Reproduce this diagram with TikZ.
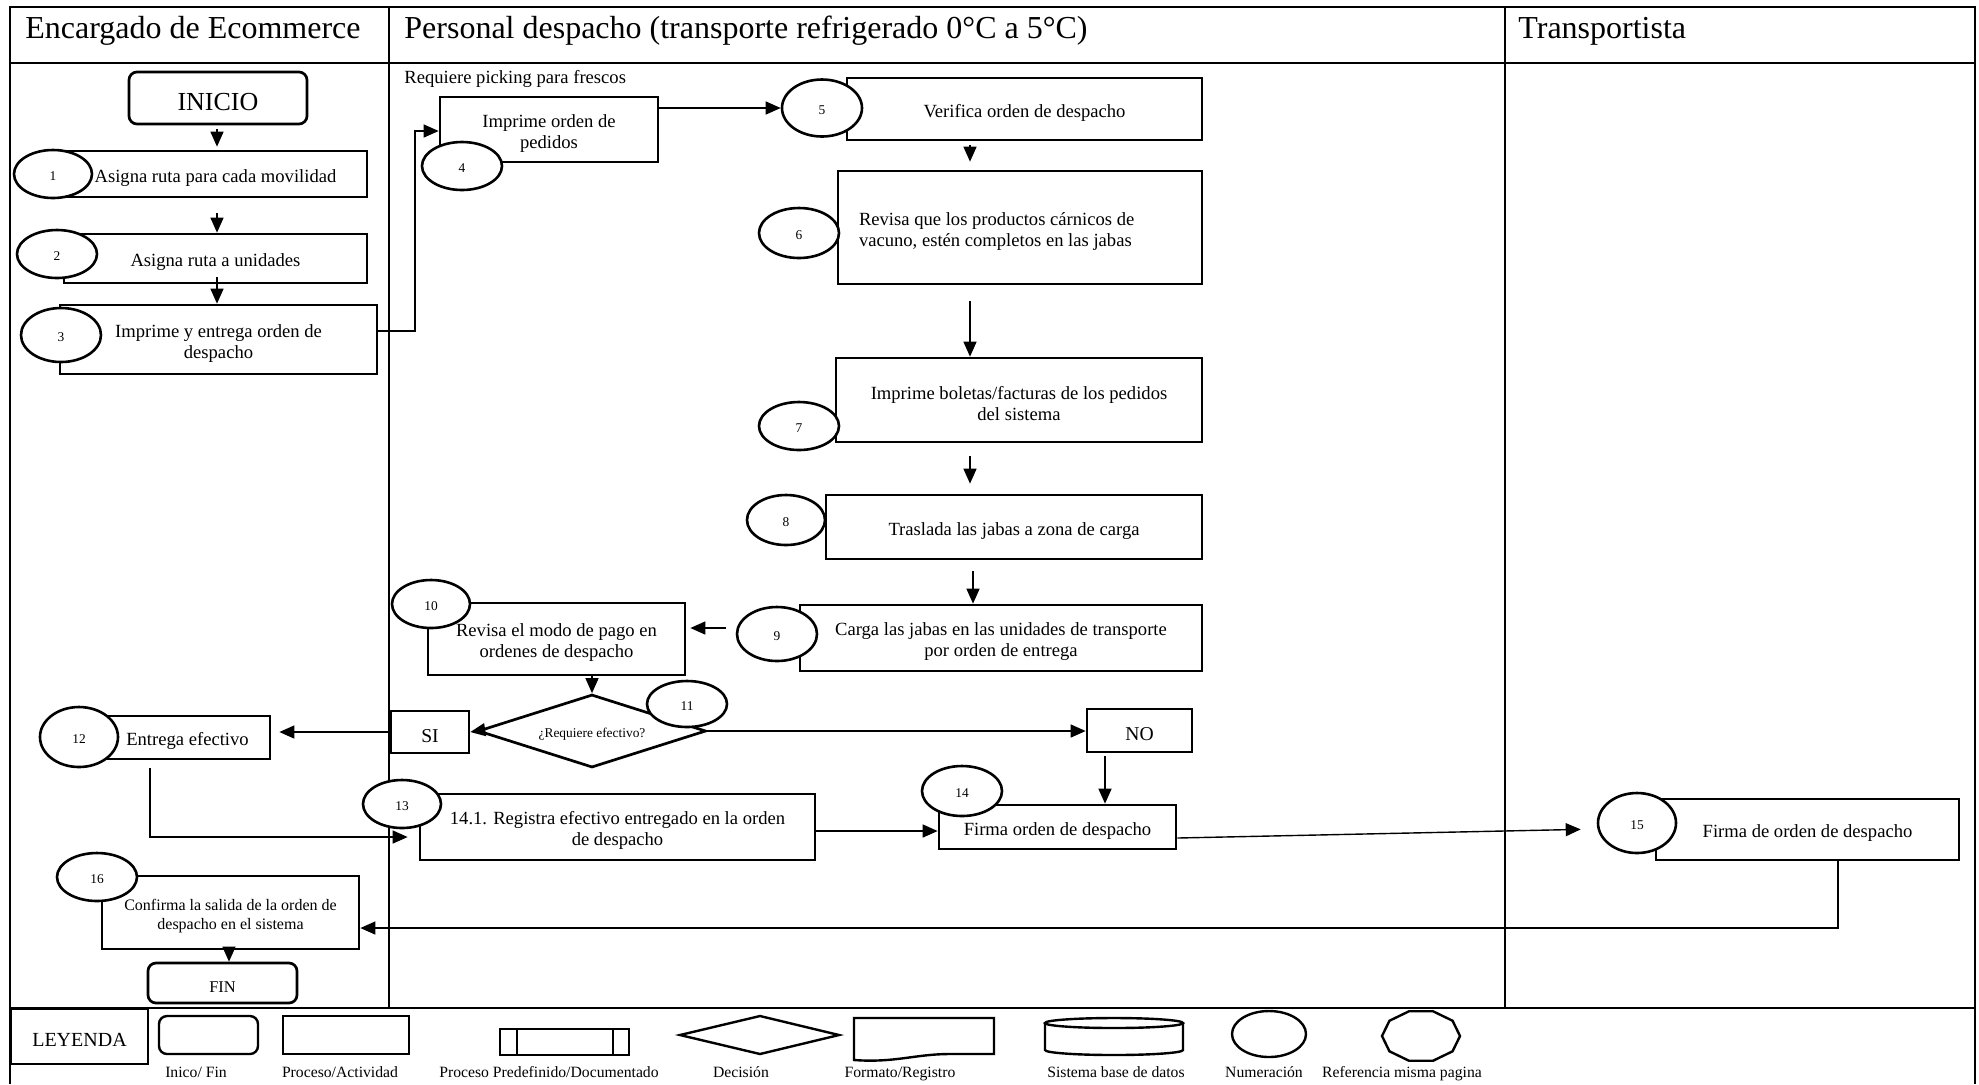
\documentclass[tikz,border=0pt]{standalone}
\usepackage{fontspec}
\setmainfont{Liberation Serif}
\usetikzlibrary{arrows.meta,shapes.geometric,calc}
\newcommand\ftitle{\fontsize{16}{19}\selectfont}
\newcommand\fbody{\fontsize{9.3}{10.6}\selectfont}
\newcommand\finicio{\fontsize{13}{15}\selectfont}
\newcommand\fnum{\fontsize{6.7}{8}\selectfont}
\newcommand\fdia{\fontsize{6.7}{8}\selectfont}
\newcommand\fsi{\fontsize{9.8}{11}\selectfont}
\newcommand\fsmall{\fontsize{8}{9.5}\selectfont}
\newcommand\ffin{\fontsize{8.2}{10}\selectfont}
\newcommand\fley{\fontsize{10}{12}\selectfont}
\newcommand\flg{\fontsize{7.85}{9}\selectfont}
\tikzset{
  frm/.style={line width=1pt},
  pbox/.style={draw, rectangle, line width=1.35pt, inner sep=0pt},
  btxt/.style={inner sep=0pt, align=center, font=\fbody},
  num/.style={draw, ellipse, fill=white, line width=1.3pt, inner sep=0pt, font=\fnum, text height=6.4pt, text depth=0pt},
  arr/.style={line width=0.7pt, -{Triangle[length=7.5pt,width=6.5pt]}},
  lg/.style={line width=1.2pt},
  lgl/.style={anchor=base, inner sep=0pt, font=\flg},
  ttl/.style={anchor=base west, inner sep=0pt, font=\ftitle}
}
\newcommand\pbx[7][]{\node[pbox,minimum width={(#5-#3)*0.5pt},minimum height={(#6-#4)*0.5pt},#1] (#2) at ({(#3+#5)/2},{(#4+#6)/2}) {};
  \node[btxt,#1] (#2t) at ([yshift=-1.9pt]#2.center) {#7};}
\newcommand\nm[6]{\node[num,minimum width={#5*0.5pt},minimum height={#6*0.5pt}] (#1) at (#2,#3) {#4};}
\begin{document}
\begin{tikzpicture}[x=0.5pt,y=-0.5pt]
\useasboundingbox (0,0) rectangle (1979,1084);
% frame
\draw[frm] (10,1084) -- (10,7) -- (1975,7) -- (1975,1084);
\draw[frm] (10,63) -- (1975,63);
\draw[frm] (389,7) -- (389,1008);
\draw[frm] (1505,7) -- (1505,1008);
\draw[line width=1.3pt] (10,1008) -- (1975,1008);
% titles
\node[ttl] (t1) at (25,38) {Encargado de Ecommerce};
\node[ttl] (t2) at (404,38) {Personal despacho (transporte refrigerado 0°C a 5°C)};
\node[ttl] (t3) at (1518,38) {Transportista};
\node[anchor=base west, inner sep=0pt, font=\fbody] (pick) at (404,83) {Requiere picking para frescos};
% boxes
\pbx[rounded corners=4pt, font=\finicio]{inicio}{129}{72}{307}{124}{INICIO}
\pbx{b1}{64}{151}{367}{197}{Asigna ruta para cada movilidad}
\pbx{b2}{64}{234}{367}{283}{Asigna ruta a unidades}
\pbx{b3}{60}{305}{377}{374}{Imprime y entrega orden de\\despacho}
\pbx{b4}{440}{97}{658}{162}{Imprime orden de\\pedidos}
\pbx{b5}{847}{78}{1202}{140}{Verifica orden de despacho}
\pbx[text width=161pt, align=flush left]{b6}{838}{171}{1202}{284}{Revisa que los productos cárnicos de\\vacuno, estén completos en las jabas}
\pbx{b7}{836}{358}{1202}{442}{Imprime boletas/facturas de los pedidos\\del sistema}
\pbx{b8}{826}{495}{1202}{559}{Traslada las jabas a zona de carga}
\pbx{b9}{800}{605}{1202}{671}{Carga las jabas en las unidades de transporte\\por orden de entrega}
\pbx{b10}{428}{603}{685}{675}{Revisa el modo de pago en\\ordenes de despacho}
\pbx[font=\fsi]{si}{391}{711}{469}{753}{SI}
\pbx[font=\fsi]{no}{1087}{709}{1192}{752}{NO}
\pbx{b12}{105}{716}{270}{759}{Entrega efectivo}
\pbx{b13}{420}{794}{815}{860}{14.1. Registra efectivo entregado en la orden\\de despacho}
\pbx{b14}{939}{805}{1176}{849}{Firma orden de despacho}
\pbx{b15}{1656}{799}{1959}{860}{Firma de orden de despacho}
\pbx[font=\fsmall]{b16}{102}{876}{359}{949}{Confirma la salida de la orden de\\despacho en el sistema}
\pbx[rounded corners=4pt, font=\ffin]{fin}{148}{963}{297}{1003}{FIN}
\node[draw, diamond, line width=1.35pt, inner sep=0pt, minimum width=114pt, minimum height=36.5pt] (d11) at (592,731) {};
\node[inner sep=0pt, font=\fdia] (d11t) at ([yshift=-1.5pt]d11.center) {¿Requiere efectivo?};
% numbers
\nm{e1}{53}{174}{1}{78}{48}
\nm{e2}{57}{254}{2}{80}{48}
\nm{e3}{61}{335}{3}{80}{54}
\nm{e4}{462}{166}{4}{80}{48}
\nm{e5}{822}{108}{5}{80}{57}
\nm{e6}{799}{233}{6}{80}{50}
\nm{e7}{799}{426}{7}{80}{48}
\nm{e8}{786}{520}{8}{78}{50}
\nm{e9}{777}{634}{9}{80}{54}
\nm{e10}{431}{604}{10}{78}{48}
\nm{e11}{687}{704}{11}{80}{46}
\nm{e12}{79}{737}{12}{78}{60}
\nm{e13}{402}{804}{13}{78}{48}
\nm{e14}{962}{791}{14}{80}{50}
\nm{e15}{1637}{823}{15}{78}{60}
\nm{e16}{97}{877}{16}{80}{48}
% helper coordinates
\coordinate (xa) at (217,0);
\coordinate (xb) at (970,0);
\coordinate (xc) at (973,0);
\coordinate (xd) at (415,0);
\coordinate (xe) at (1105,0);
\coordinate (xf) at (150,0);
\coordinate (xg) at (1838,0);
\coordinate (xh) at (229,0);
\coordinate (r1) at (0,331);
\coordinate (r2) at (0,131);
\coordinate (r4) at (0,628);
\coordinate (r5) at (0,837);
\coordinate (r6) at (0,831);
\coordinate (r7) at (0,928);
\coordinate (r8) at (0,838);
\coordinate (r9) at (0,829);
% connectors
\draw[arr, shorten <=2pt, shorten >=1.5pt] (inicio.south -| xa) -- (b1.north -| xa);
\draw[arr, shorten <=7.5pt] (b1.south -| xa) -- (b2.north -| xa);
\draw[arr, shorten <=-3.5pt] (b2.south -| xa) -- (b3.north -| xa);
\draw[arr] (b3.east |- r1) -| (xd |- r2) -- (b4.west |- r2);
\draw[arr] (b4.east |- e5.west) -- (e5.west);
\draw[arr, shorten <=2pt, shorten >=4pt] (b5.south -| xb) -- (b6.north -| xb);
\draw[arr, shorten <=8pt] (b6.south -| xb) -- (b7.north -| xb);
\draw[arr, shorten <=6.5pt, shorten >=5pt] (b7.south -| xb) -- (b8.north -| xb);
\draw[arr, shorten <=5.5pt] (b8.south -| xc) -- (b9.north -| xc);
\draw[arr, shorten <=5pt, shorten >=2pt] (e9.west |- r4) -- (b10.east |- r4);
\draw[arr] (b10.south -| d11.north) -- (d11.north);
\draw[arr] (d11.west) -- (si.east);
\draw[arr, shorten >=4pt] (si.west) -- (si.west -| b12.east);
\draw[arr] (d11.east) -- (no.west |- d11.east);
\draw[arr, shorten <=1.5pt] (no.south -| xe) -- (b14.north -| xe);
\draw[arr, shorten <=4pt, shorten >=5.5pt] (b12.south -| xf) |- (b13.west |- r5);
\draw[arr] (b13.east |- r6) -- (b14.west |- r6);
\draw[arr, shorten >=8pt] (b14.east |- r8) -- (e15.west |- r9);
\draw[arr] (b15.south -| xg) |- (b16.east |- r7);
\draw[arr, shorten <=-3pt] (b16.south -| xh) -- (fin.north -| xh);
% legend
\pbx[font=\fley]{ley}{11}{1009}{148}{1064}{LEYENDA}
\draw[lg, rounded corners=4pt] (159,1016) rectangle (258,1054);
\draw[lg] (283,1016) rectangle (409,1054);
\draw[lg] (500,1029) rectangle (629,1055) (517,1029) -- (517,1055) (613,1029) -- (613,1055);
\draw[lg] (680,1035) -- (760,1016) -- (839,1035) -- (760,1054) -- cycle;
\draw[lg] (854,1060) -- (854,1018) -- (994,1018) -- (994,1054) -- (950,1054) .. controls (915,1054) and (895,1063) .. (854,1060) -- cycle;
\draw[lg] (1114,1023) ellipse [x radius=34.5pt, y radius=2.5pt];
\draw[lg] (1045,1023) -- (1045,1050) arc[start angle=180, end angle=360, x radius=34.5pt, y radius=2.5pt] -- (1183,1023);
\node[draw, ellipse, lg, minimum width=37pt, minimum height=23pt, inner sep=0pt] (lc) at (1269,1034) {};
\draw[lg] (1460,1036) \foreach \a in {36,72,...,324} { -- ({1421+39*cos(\a)},{1036+26*sin(\a)}) } -- cycle;
\node[lgl] (l1) at (196,1077) {Inico/ Fin};
\node[lgl] (l2) at (340,1077) {Proceso/Actividad};
\node[lgl] (l3) at (549,1077) {Proceso Predefinido/Documentado};
\node[lgl] (l4) at (741,1077) {Decisión};
\node[lgl] (l5) at (900,1077) {Formato/Registro};
\node[lgl] (l6) at (1116,1077) {Sistema base de datos};
\node[lgl] (l7) at (1264,1077) {Numeración};
\node[lgl] (l8) at (1402,1077) {Referencia misma pagina};
\end{tikzpicture}
\end{document}
